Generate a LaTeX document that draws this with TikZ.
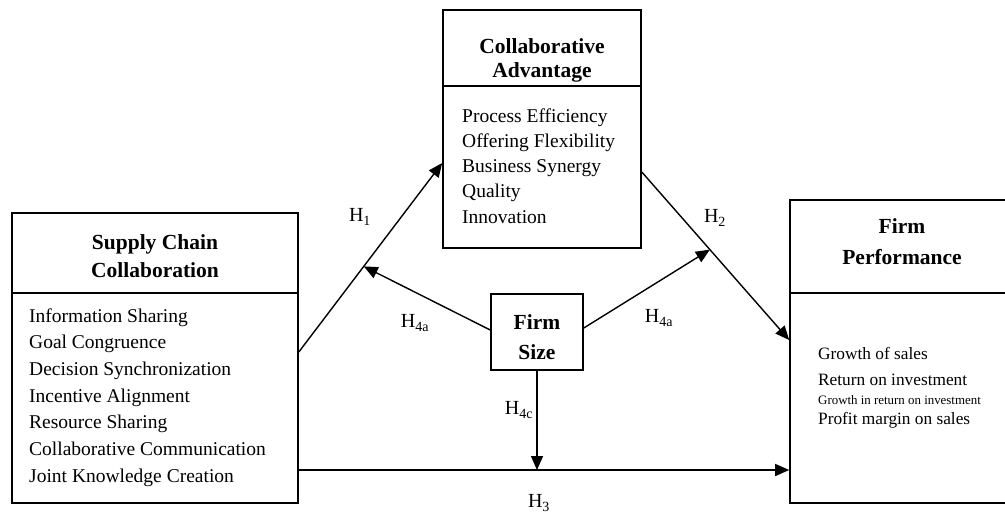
\documentclass[tikz,border=0pt]{standalone}
\usepackage{fontspec}
\setmainfont{Liberation Serif}
\usetikzlibrary{arrows.meta}
\begin{document}
\begin{tikzpicture}[x=1pt,y=-1pt,
  box/.style={draw, line width=1.6pt, rectangle, inner sep=0pt},
  divider/.style={line width=1.6pt},
  title/.style={font=\fontsize{21.5}{26}\selectfont\bfseries, anchor=base, inner sep=0pt},
  item/.style={font=\fontsize{19.5}{24}\selectfont, anchor=base west, inner sep=0pt},
  kpi/.style={font=\fontsize{17.3}{21}\selectfont, anchor=base west, inner sep=0pt},
  kpismall/.style={font=\fontsize{12.9}{15}\selectfont, anchor=base west, inner sep=0pt},
  hyp/.style={font=\fontsize{20}{24}\selectfont, inner sep=0pt},
  link/.style={line width=1.4pt, -{Triangle[length=14pt,width=12pt]}}]

\useasboundingbox (0,0) rectangle (1005,520);
\clip (0,0) rectangle (1005,520);

% construct boxes
\node[box, minimum width=286pt, minimum height=290pt] (scc) at (155,358) {};
\draw[divider] ([yshift=-81pt]scc.north west) -- ([yshift=-81pt]scc.north east);
\node[box, minimum width=198pt, minimum height=238pt] (ca) at (542,129) {};
\draw[divider] ([yshift=-77pt]ca.north west) -- ([yshift=-77pt]ca.north east);
\node[box, minimum width=225pt, minimum height=303pt] (fp) at (902.5,351.5) {};
\draw[divider] ([yshift=-94pt]fp.north west) -- ([yshift=-94pt]fp.north east);
\node[box, minimum width=92pt, minimum height=76pt] (fs) at (537,332) {};

% titles
\node[title] (scc-t1) at (155,249) {Supply Chain};
\node[title] (scc-t2) at (155,277) {Collaboration};
\node[title] (ca-t1) at (542,53) {Collaborative};
\node[title] (ca-t2) at (542,77) {Advantage};
\node[title] (fp-t1) at (902,233) {Firm};
\node[title] (fp-t2) at (902,264) {Performance};
\node[title] (fs-t1) at (537,329) {Firm};
\node[title] (fs-t2) at (537,359) {Size};

% dimensions of each construct
\foreach \t [count=\i] in {Information Sharing, Goal Congruence, Decision Synchronization,
    Incentive Alignment, Resource Sharing, Collaborative Communication, Joint Knowledge Creation}
  \node[item] (scc-\i) at (29,{322+26.7*(\i-1)}) {\t};
\foreach \t [count=\i] in {Process Efficiency, Offering Flexibility, Business Synergy, Quality, Innovation}
  \node[item] (ca-\i) at (462,{122+25.3*(\i-1)}) {\t};
\node[kpi] (fp-1) at (818,359) {Growth of sales};
\node[kpi] (fp-2) at (818,385) {Return on investment};
\node[kpismall] (fp-3) at (818,404) {Growth in return on investment};
\node[kpi] (fp-4) at (818,424) {Profit margin on sales};

% hypothesised paths
\draw[link] ([yshift=6pt]scc.east) -- coordinate[pos=0.453] (m1) ([yshift=-34pt]ca.west);
\draw[link] ([yshift=-43pt]ca.east) -- coordinate[pos=0.462] (m2) ([yshift=11.5pt]fp.west);
\draw[link] ([yshift=-112pt]scc.east) -- coordinate[pos=0.486] (m3) ([yshift=-118.5pt]fp.west);
\draw[link] (fs.south) -- (fs.south |- m3);
\draw[link] ([yshift=2pt]fs.west) -- (m1);
\draw[link] ([yshift=4pt]fs.east) -- (m2);

% path labels
\node[hyp] (h1) at (360,217) {H\textsubscript{1}};
\node[hyp] (h2) at (715,218) {H\textsubscript{2}};
\node[hyp] (h3) at (539,503) {H\textsubscript{3}};
\node[hyp] (h4l) at (415,323) {H\textsubscript{4a}};
\node[hyp] (h4r) at (659,318) {H\textsubscript{4a}};
\node[hyp] (h4c) at (519,410) {H\textsubscript{4c}};
\end{tikzpicture}
\end{document}
